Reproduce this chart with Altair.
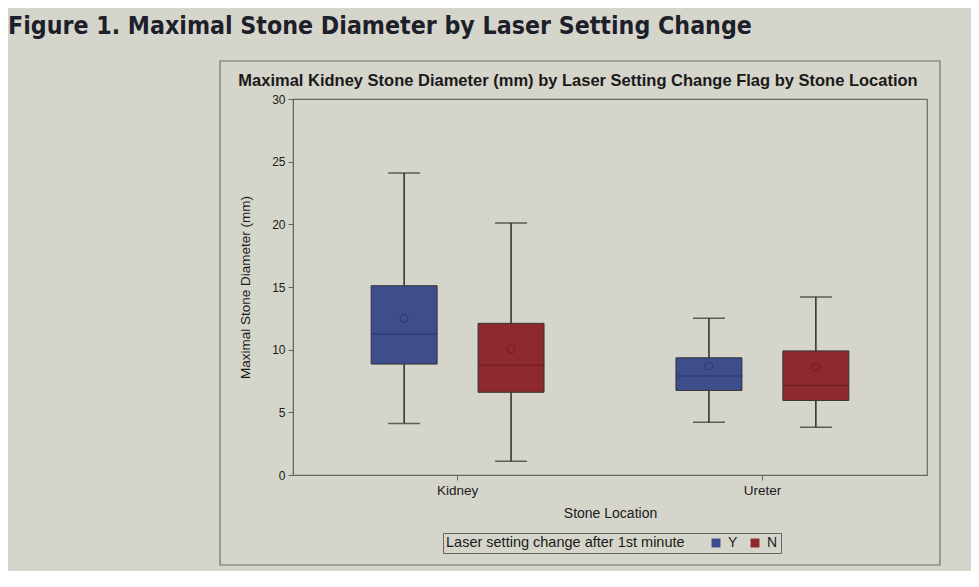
import altair as alt
import pandas as pd

# ---- data ----
locations = ["Kidney", "Kidney", "Ureter", "Ureter"]
flags = ["Y", "N", "Y", "N"]
whisker_low = [4.1, 1.1, 4.2, 3.8]
q1 = [8.85, 6.6, 6.75, 5.95]
median = [11.25, 8.75, 7.9, 7.15]
q3 = [15.1, 12.1, 9.35, 9.9]
whisker_high = [24.1, 20.1, 12.5, 14.2]
mean = [12.5, 10.05, 8.7, 8.6]

loc_order = ["Kidney", "Ureter"]
flag_order = ["Y", "N"]
fill_colors = ["#3e4d8b", "#8e2a2d"]
edge_colors = ["#2a366c", "#6a1c1f"]

fig_title = "Figure 1. Maximal Stone Diameter by Laser Setting Change"
chart_title = "Maximal Kidney Stone Diameter (mm) by Laser Setting Change Flag by Stone Location"
y_title = "Maximal Stone Diameter (mm)"
x_title = "Stone Location"
legend_title = "Laser setting change after 1st minute"
y_ticks = [0, 5, 10, 15, 20, 25, 30]

df = pd.DataFrame({
    "loc": locations, "flag": flags, "low": whisker_low, "q1": q1,
    "med": median, "q3": q3, "high": whisker_high, "mean": mean,
})

BG = "#d6d5cb"
FONT = "Liberation Sans, Arial, sans-serif"

x_enc = alt.X("loc:N", sort=loc_order,
              scale=alt.Scale(domain=loc_order, paddingInner=0, paddingOuter=0.04),
              axis=alt.Axis(title=x_title, labelAngle=0, tickSize=5, tickColor="#666",
                            domainColor="#666", labelFontSize=13.5, labelColor="#1a1a1a",
                            titleFontSize=14, titleFontWeight="normal", titleColor="#1a1a1a",
                            labelPadding=3, titlePadding=10, labelFont=FONT, titleFont=FONT,
                            zindex=1))
xo_enc = alt.XOffset("flag:N", sort=flag_order,
                     scale=alt.Scale(domain=flag_order, paddingInner=0.383, paddingOuter=0.617))
y_scale = alt.Scale(domain=[0, 30], nice=False, zero=True)
y_axis = alt.Axis(title=y_title, values=y_ticks, tickSize=5, tickColor="#666", domainColor="#666",
                  labelFontSize=12, labelColor="#1a1a1a", titleFontSize=13.5,
                  titleFontWeight="normal", titleColor="#1a1a1a", labelPadding=3,
                  titlePadding=19, grid=False, labelFont=FONT, titleFont=FONT, zindex=1)

color_fill = alt.Color("flag:N", sort=flag_order,
                       scale=alt.Scale(domain=flag_order, range=fill_colors),
                       legend=alt.Legend(title=legend_title, orient="none", legendX=150, legendY=434,
                                         direction="horizontal", titleOrient="left",
                                         symbolType="square", symbolSize=80, symbolStrokeWidth=0,
                                         labelFontSize=14, titleFontSize=14.5, titleLimit=400,
                                         titleFontWeight="normal", titleColor="#1a1a1a",
                                         labelColor="#1a1a1a", labelFont=FONT, titleFont=FONT,
                                         strokeColor="#666", padding=3, titlePadding=24,
                                         columnPadding=10, labelOffset=5))
color_edge = alt.Color("flag:N", sort=flag_order,
                       scale=alt.Scale(domain=flag_order, range=edge_colors), legend=None)

base = alt.Chart(df).encode(x=x_enc, xOffset=xo_enc)

whisk_lo = base.mark_rule(color="#2a2a2a", strokeWidth=1.5).encode(
    y=alt.Y("low:Q", scale=y_scale, axis=y_axis), y2="q1:Q")
whisk_hi = base.mark_rule(color="#2a2a2a", strokeWidth=1.5).encode(
    y=alt.Y("q3:Q", scale=y_scale), y2="high:Q")
cap_lo = base.mark_tick(orient="horizontal", size=32, thickness=1.5, color="#2a2a2a").encode(
    y=alt.Y("low:Q", scale=y_scale))
cap_hi = base.mark_tick(orient="horizontal", size=32, thickness=1.5, color="#2a2a2a").encode(
    y=alt.Y("high:Q", scale=y_scale))
box = base.mark_bar(stroke="#333", strokeWidth=1, opacity=1).encode(
    y=alt.Y("q1:Q", scale=y_scale), y2="q3:Q", color=color_fill)
med = base.mark_tick(orient="horizontal", size=66, thickness=1.5).encode(
    y=alt.Y("med:Q", scale=y_scale), color=color_edge)
mn = base.mark_point(shape="circle", filled=False, size=60, strokeWidth=1.3).encode(
    y=alt.Y("mean:Q", scale=y_scale), color=color_edge)

frame = alt.Chart(pd.DataFrame({"f": [0]})).mark_rect(
    fill="#d9d8cf", fillOpacity=0, stroke="#707070", strokeWidth=1.2).encode(
    x=alt.value(-73), x2=alt.value(647), y=alt.value(-38), y2=alt.value(466))

fig_text = alt.Chart(pd.DataFrame({"t": [fig_title]})).mark_text(
    align="left", baseline="alphabetic", fontSize=24.7, fontWeight="bold",
    font="Liberation Sans Narrow, Arial Narrow, DejaVu Sans Condensed, Liberation Sans",
    color="#1d1f2b").encode(text="t:N", x=alt.value(-285), y=alt.value(-65))

title_text = alt.Chart(pd.DataFrame({"t": [chart_title]})).mark_text(
    align="center", baseline="alphabetic", fontSize=16.5, fontWeight="bold", font=FONT,
    color="#1a1a1a").encode(text="t:N", x=alt.value(285), y=alt.value(-13))

chart = alt.layer(frame, fig_text, title_text, whisk_lo, whisk_hi, cap_lo, cap_hi,
                  box, med, mn).properties(
    width=634, height=376,
    autosize=alt.AutoSizeParams(type="none"),
    padding={"left": 285, "top": 91, "right": 44, "bottom": 96},
    background=BG,
).configure_view(stroke="#6a6a6a", strokeWidth=1.2).resolve_scale(color="independent")

chart.save("out.html", embed_options={"renderer": "svg", "actions": False})
